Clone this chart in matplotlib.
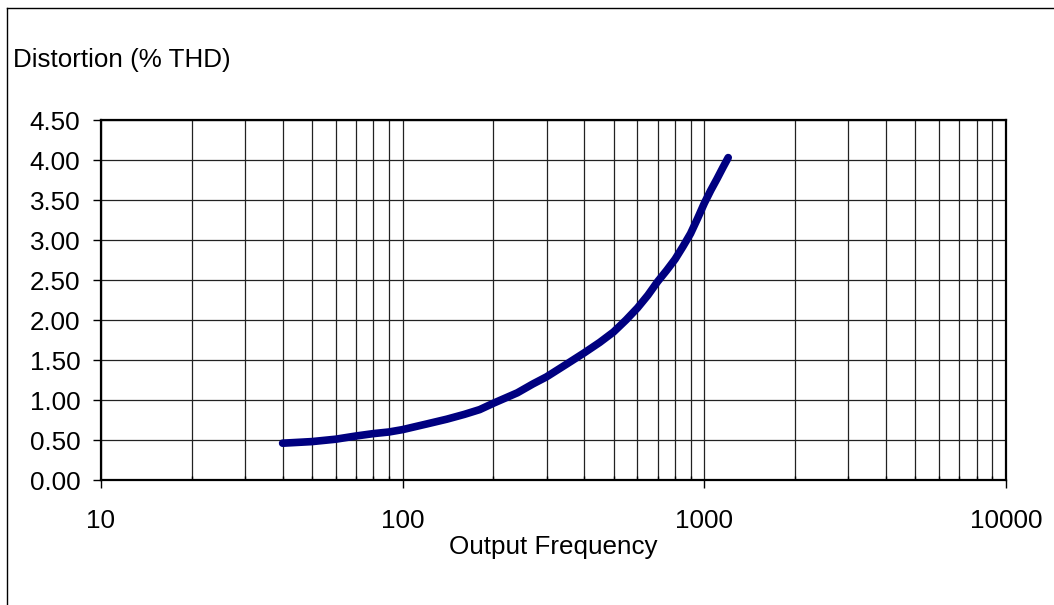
import matplotlib
matplotlib.use("Agg")
import matplotlib.pyplot as plt
from matplotlib.ticker import FixedLocator, NullFormatter, FuncFormatter
from matplotlib.lines import Line2D

plt.rcParams['font.family'] = ['Liberation Sans', 'DejaVu Sans']

# values
freq = [40, 50, 60, 70, 80, 90, 100, 120, 140, 160, 180, 200, 240, 270,
        300, 350, 400, 450, 500, 550, 600, 650, 700, 750, 800, 850, 900,
        950, 1000, 1050, 1100, 1150, 1200]
thd = [0.46, 0.48, 0.51, 0.55, 0.58, 0.60, 0.63, 0.70, 0.76, 0.82, 0.88,
       0.96, 1.09, 1.20, 1.29, 1.45, 1.59, 1.72, 1.85, 2.00, 2.15, 2.31,
       2.48, 2.62, 2.76, 2.92, 3.08, 3.27, 3.46, 3.62, 3.76, 3.90, 4.03]
y_ticks = [0, 0.5, 1.0, 1.5, 2.0, 2.5, 3.0, 3.5, 4.0, 4.5]
x_ticks = [10, 100, 1000, 10000]

W, H = 1054, 605
fig = plt.figure(figsize=(W / 100, H / 100), dpi=100)
ax = fig.add_axes([101 / W, 1 - 480 / H, 905 / W, 360 / H])

ax.plot(freq, thd, color='#000080', lw=5.5, solid_capstyle='round',
        solid_joinstyle='round', zorder=3)

ax.set_xscale('log')
ax.set_xlim(10, 10000)
ax.set_ylim(0, 4.5)
ax.xaxis.set_major_locator(FixedLocator(x_ticks))
ax.xaxis.set_major_formatter(FuncFormatter(lambda v, p: '%d' % v))
minors = [m * d for d in [10, 100, 1000] for m in range(2, 10)]
ax.xaxis.set_minor_locator(FixedLocator(minors))
ax.xaxis.set_minor_formatter(NullFormatter())
ax.set_yticks(y_ticks)
ax.yaxis.set_major_formatter(FuncFormatter(lambda v, p: '%.2f' % v))

fs = 18.7
ax.grid(True, which='both', color='#222222', lw=0.9)
ax.tick_params(axis='x', which='major', length=6, width=1, pad=15,
               labelsize=fs, direction='out')
ax.tick_params(axis='x', which='minor', length=3, width=1, direction='in')
ax.tick_params(axis='y', length=6, width=1, pad=9, labelsize=fs,
               direction='out')
for s in ax.spines.values():
    s.set_linewidth(1.6)
    s.set_color('black')

ax.set_xlabel('Output Frequency', fontsize=fs, labelpad=1)
fig.text(13 / W, 1 - 60 / H, 'Distortion (% THD)', fontsize=fs,
         ha='left', va='center')

# outer chart frame (only top and left edges are visible)
fig.add_artist(Line2D([7 / W, 1.0], [1 - 8 / H, 1 - 8 / H],
                      transform=fig.transFigure, color='black', lw=1))
fig.add_artist(Line2D([7 / W, 7 / W], [0.0, 1 - 8 / H],
                      transform=fig.transFigure, color='black', lw=1))

fig.savefig('out.png', dpi=100)
